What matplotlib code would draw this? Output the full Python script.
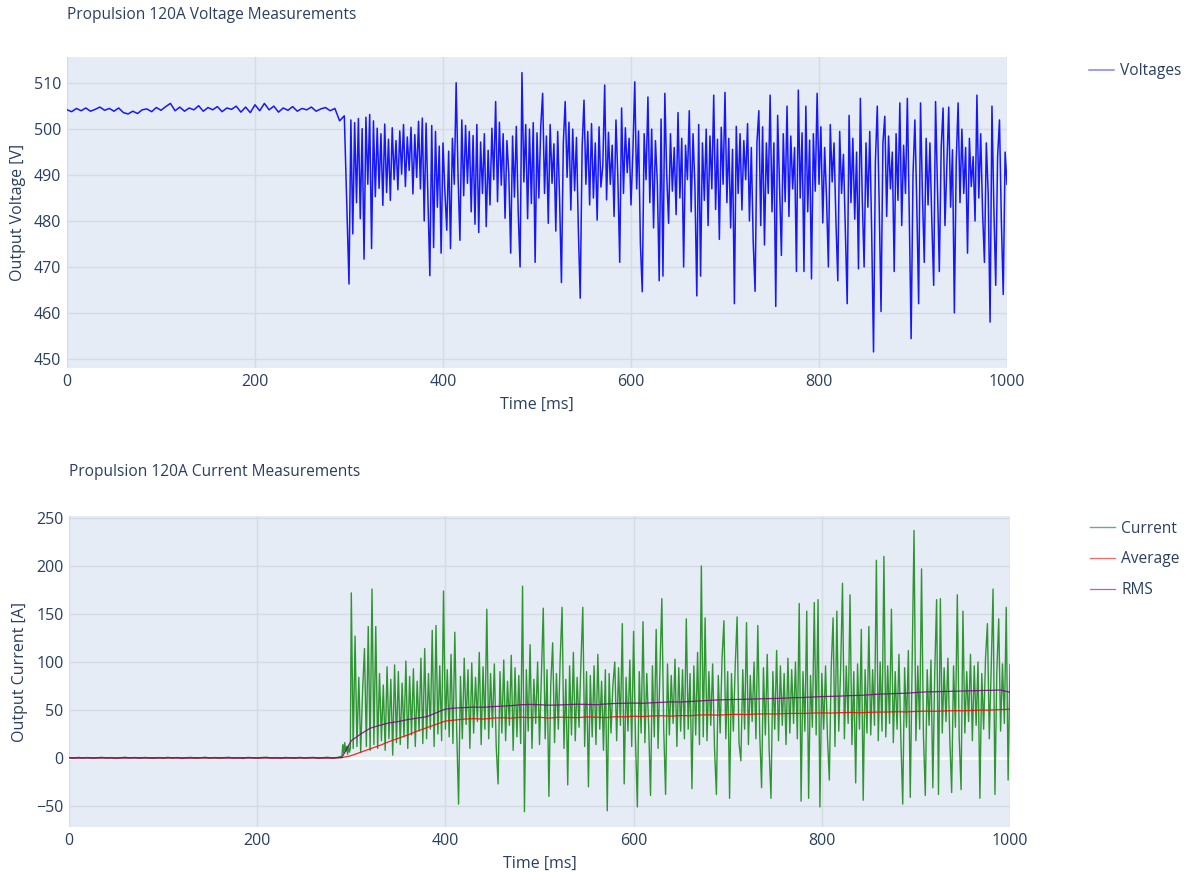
import numpy as np
import matplotlib
matplotlib.use('Agg')
import matplotlib.pyplot as plt

plt.rcParams['font.family'] = ['Open Sans', 'DejaVu Sans']

# ---- voltage data ----
# 0..295 ms, 5 ms step (before propulsion start)
volt_flat = [504.2, 503.8, 504.5, 504.0, 504.6, 503.9, 504.3, 504.8, 504.1, 504.5,
             503.9, 504.6, 503.6, 503.3, 503.9, 503.4, 504.2, 504.4, 503.8, 504.7,
             504.1, 504.9, 505.6, 504.0, 504.8, 503.9, 504.6, 504.2, 505.1, 503.9,
             504.7, 504.2, 504.9, 503.8, 504.6, 504.3, 505.0, 503.7, 504.8, 503.6,
             505.3, 504.0, 505.6, 504.2, 505.0, 503.7, 504.6, 504.1, 504.9, 503.9,
             504.5, 504.2, 504.8, 503.9, 504.4, 504.7, 504.0, 504.5, 501.8, 502.9]
# 300..1000 ms, 2 ms step
volt_run = [
    466.3, 502.0, 477.2, 501.4, 484.0, 502.3, 480.5, 500.1, 471.7, 502.6, 488.0, 503.2, 474.0,
    501.8, 485.3, 500.2, 487.1, 499.0, 483.4, 501.1, 486.2, 497.8, 484.5, 500.3, 489.0,
    497.5, 486.8, 499.6, 490.2, 501.0, 487.5, 498.3, 491.0, 500.4, 485.9, 498.8, 489.5, 501.7,
    487.0, 502.4, 480.0, 501.3, 484.6, 468.1, 500.8, 474.2, 499.5, 483.0, 496.3, 473.0,
    497.0, 486.5, 478.0, 495.2, 474.0, 498.0, 488.0, 510.1, 490.0, 475.8, 502.0, 485.5, 500.8,
    488.2, 499.5, 482.0, 498.6, 479.3, 501.0, 477.5, 497.2, 486.0, 499.0, 478.8, 495.4,
    483.5, 500.2, 489.0, 506.0, 484.2, 501.5, 487.8, 499.0, 480.6, 497.5, 490.3, 473.0, 498.5,
    485.2, 500.6, 482.0, 470.0, 512.3, 488.5, 501.0, 480.5, 500.0, 483.8, 501.4, 471.0,
    499.2, 485.0, 500.6, 507.8, 486.0, 498.5, 479.5, 501.0, 488.2, 496.8, 477.8, 499.5, 485.0,
    466.6, 497.0, 506.0, 489.5, 501.5, 482.4, 500.0, 486.6, 498.2, 478.0, 463.2, 496.0,
    506.3, 488.0, 499.5, 483.5, 501.2, 485.0, 497.0, 480.2, 500.5, 487.4, 492.0, 509.6, 484.6,
    499.3, 488.0, 496.5, 481.0, 502.0, 489.5, 471.0, 504.6, 486.0, 500.3, 490.5, 498.0,
    483.5, 495.0, 510.3, 487.0, 499.6, 475.0, 464.6, 499.0, 489.0, 507.0, 484.0, 500.0, 478.5,
    497.5, 488.4, 467.0, 502.2, 468.0, 507.8, 490.0, 479.5, 499.0, 486.5, 496.0, 481.4,
    503.6, 485.0, 498.0, 470.0, 496.5, 489.0, 504.0, 482.0, 499.0, 487.5, 463.7, 501.0, 468.0,
    497.0, 484.5, 500.0, 479.0, 498.5, 487.0, 507.4, 482.5, 497.8, 476.0, 500.4, 488.0,
    508.0, 484.0, 498.0, 478.5, 495.6, 462.0, 500.6, 486.0, 499.0, 482.4, 497.5, 489.0, 501.2,
    480.0, 496.0, 475.5, 464.7, 497.2, 504.0, 479.0, 500.5, 474.8, 497.0, 486.0, 507.4,
    482.0, 497.0, 461.4, 503.0, 488.0, 472.5, 499.0, 484.2, 505.0, 481.0, 498.5, 487.0, 496.0,
    469.0, 508.5, 485.0, 499.2, 469.0, 505.0, 482.0, 497.6, 467.4, 499.0, 486.5, 507.8,
    488.0, 500.5, 479.6, 496.0, 485.0, 470.0, 501.0, 488.5, 497.0, 480.0, 467.0, 499.5, 486.0,
    494.5, 478.0, 462.0, 503.0, 484.0, 498.0, 480.4, 495.0, 469.6, 506.7, 485.0, 470.0,
    497.0, 483.0, 499.5, 478.0, 451.5, 493.0, 505.0, 484.0, 460.3, 497.0, 502.8, 481.0, 498.5,
    487.0, 495.0, 469.0, 499.0, 484.5, 505.7, 479.0, 496.5, 486.0, 506.7, 482.0, 454.4,
    490.0, 502.0, 484.0, 462.0, 505.7, 486.0, 471.0, 498.0, 483.5, 497.0, 480.0, 466.0, 506.0,
    487.0, 469.0, 496.0, 504.6, 479.0, 492.0, 504.8, 483.0, 495.5, 460.0, 493.0, 505.7,
    484.0, 500.0, 486.0, 496.0, 473.0, 498.0, 487.5, 494.0, 480.0, 507.4, 485.0, 499.0, 482.0,
    471.0, 497.0, 486.0, 458.0, 505.0, 483.0, 466.0, 494.0, 502.0, 480.0, 464.0, 495.0,
    488.0]

# ---- current data ----
# 0..285 ms, 5 ms step
curr_flat = [0.3, -0.4, 0.6, -0.2, 0.5, -0.5, 0.2, 0.7, -0.3, 0.4,
             -0.6, 0.3, 0.8, -0.2, 0.5, -0.4, 0.6, 0.1, -0.5, 0.4,
             -0.3, 0.7, -0.2, 0.5, -0.6, 0.3, 0.6, -0.4, 0.2, 0.8,
             -0.3, 0.5, -0.5, 0.4, 0.7, -0.2, 0.3, -0.6, 0.6, 0.2,
             -0.4, 0.5, 0.8, -0.3, 0.4, -0.5, 0.6, 0.1, -0.4, 0.7,
             -0.2, 0.4, 0.6, -0.5, 0.3, 0.8, -0.3, 0.5]
# 290..299 ms, 1 ms step (pre-charge bump)
curr_bump = [2, 14, 5, 16, 7, 12, 4, 13, 6, 10]
# 300..1000 ms, 2 ms step
curr_run = [
    172, 10, 127, 12, 84, 6, 70, 114, 12, 137, 8, 176, 14, 137, 10, 88, 18, 76, 8, 95, 20, 82, 3, 97, 16,
    90, 14, 78, 22, 101, 10, 85, 24, 93, 12, 80, 28, 104, 15, 114, 20, 88, 30, 133, 12, 138, 25, 96, 18, 174,
    30, 92, 22, 108, 15, 131, 28, -48, 85, 20, 104, 35, 92, 10, 99, 26, 84, 38, 110, 14, 95, 30, 155, 20, 88,
    32, 98, 12, -27, 90, 26, 102, 18, 80, 34, 107, 8, 94, 22, 86, 15, 179, -56, 92, 28, 118, 10, 82, 36, 100,
    14, 86, 156, 20, 92, -40, 78, 120, 16, 88, 30, 104, 157, 10, 82, -28, 96, 24, 110, 18, 84, 32, 98, 157, 12,
    90, -30, 86, 22, 96, 14, 108, 30, 80, 8, 92, -55, 88, 26, 76, 100, 18, 94, 34, 140, -27, 84, 28, 102, 12,
    132, 20, -51, 90, 26, 142, 16, 88, 34, -39, 96, 22, 134, 10, 92, 166, 30, -38, 98, 24, 86, 36, 103, 12, 94,
    28, 92, 20, 145, 30, 88, -32, 96, 24, 110, 14, 200, 22, 146, 18, 90, 34, 98, 10, -38, 86, 26, 104, 143, 20,
    90, -42, 88, 28, 96, 147, 16, -3, 92, 30, 141, 14, 86, 38, 100, 20, 138, 26, -31, 94, 24, 108, 10, -42, 90,
    30, 112, 18, 96, 34, 88, 14, 104, 26, 92, 36, 100, 20, 161, -45, 90, 28, 153, -42, 86, 32, 162, 24, 165, -51,
    88, 30, 96, 22, -23, 94, 146, 12, 153, 28, 92, 182, 20, 96, 36, 170, 14, 90, -26, 98, 30, 134, -44, 92, 26,
    137, 24, 92, 34, 206, 18, 100, 28, 210, 22, 96, 36, 155, 16, 90, 30, 108, 20, -48, 94, 32, 112, -41, 98, 237,
    18, 96, 30, 197, 24, -39, 92, 34, 102, -31, 88, 165, -38, 166, 26, 94, 38, 104, 20, -36, 96, 32, 170, 22, -33,
    153, 26, 90, 38, 108, 18, 96, 34, 100, -42, 88, 30, 104, 140, 20, 92, 176, -38, 90, 145, 28, 98, 36, 157, -23,
    97]

# 0..1000 ms, 10 ms step
curr_avg = [0.1, 0.0, 0.1, 0.0, 0.1, 0.0, 0.0, 0.1, 0.0, 0.1, 0.0, 0.1, 0.0, 0.0, 0.1,
            0.0, 0.1, 0.0, 0.0, 0.1, 0.0, 0.1, 0.0, 0.0, 0.1, 0.0, 0.1, 0.0, 0.0,
            0.3, 2.5, 6.0, 9.5, 13.0, 17.0, 20.5, 24.0, 28.0, 31.5, 35.0, 38.5, 39.5, 40.5,
            41.0, 40.5, 41.5, 42.0, 41.5, 42.5, 42.0, 42.5, 41.5, 42.5, 42.3, 42.0, 42.8, 42.5,
            42.0, 43.0, 42.8, 43.5, 43.2, 43.8, 44.0, 43.6, 44.2, 44.0, 44.8, 45.0, 44.6, 45.2,
            45.5, 45.3, 45.8, 46.0, 45.8, 46.2, 46.5, 46.4, 46.8, 47.0, 46.8, 47.2, 47.5, 47.0,
            47.6, 47.8, 47.9, 48.2, 48.0, 48.5, 48.8, 48.6, 49.0, 49.3, 49.2, 49.6, 49.8, 50.0,
            50.4, 50.8]
curr_rms = [0.2, 0.1, 0.2, 0.1, 0.2, 0.1, 0.1, 0.2, 0.1, 0.2, 0.1, 0.2, 0.1, 0.1, 0.2,
            0.1, 0.2, 0.1, 0.1, 0.2, 0.1, 0.2, 0.1, 0.1, 0.2, 0.1, 0.2, 0.1, 0.1,
            0.5, 18.0, 25.0, 31.0, 34.0, 36.5, 38.0, 40.0, 41.5, 43.0, 47.0, 51.0, 52.0, 52.5,
            53.0, 52.8, 53.5, 54.0, 54.5, 55.5, 55.8, 55.5, 55.0, 55.2, 55.6, 56.0, 55.8, 55.5,
            56.2, 56.8, 57.0, 57.2, 57.0, 57.5, 58.0, 58.5, 58.3, 58.8, 59.5, 60.0, 60.5, 60.8,
            61.0, 61.2, 61.5, 61.8, 62.0, 62.3, 62.8, 63.0, 63.5, 64.0, 64.2, 64.5, 65.0, 65.2,
            65.8, 66.5, 66.8, 67.2, 67.5, 68.2, 68.8, 69.0, 69.3, 69.5, 69.8, 70.0, 70.3, 70.5,
            70.8, 68.5]

# time axes
t_volt = np.concatenate([np.arange(len(volt_flat)) * 5.0,
                         300 + np.arange(len(volt_run)) * 2.0])
volt = np.array(volt_flat + volt_run)
t_curr = np.concatenate([np.arange(len(curr_flat)) * 5.0,
                         290 + np.arange(len(curr_bump)) * 1.0,
                         300 + np.arange(len(curr_run)) * 2.0])
curr = np.array(curr_flat + curr_bump + curr_run, dtype=float)
t_stat = np.arange(len(curr_avg)) * 10.0

BG = '#E5ECF6'
GRID = '#d6dbe3'
TXT = '#2a3f5f'
W, H = 1189, 872


def style_axes(ax, ylabel):
    ax.set_facecolor(BG)
    for s in ax.spines.values():
        s.set_visible(False)
    ax.grid(True, color=GRID, linewidth=1.0)
    ax.set_axisbelow(True)
    ax.tick_params(length=0, pad=4, labelsize=11.5, colors=TXT)
    ax.set_xlabel('Time [ms]', fontsize=11.5, color=TXT, labelpad=5)
    ax.set_ylabel(ylabel, fontsize=11.5, color=TXT, labelpad=6)
    ax.set_xlim(0, 1000)
    ax.set_xticks([0, 200, 400, 600, 800, 1000])


fig = plt.figure(figsize=(W / 100, H / 100), dpi=100)

# voltage panel
ax1 = fig.add_axes([67 / W, 1 - 368 / H, 940 / W, 311 / H])
style_axes(ax1, 'Output Voltage [V]')
ax1.plot(t_volt, volt, color='#0000ff', lw=1.1, alpha=0.9, label='Voltages')
ax1.set_ylim(448.0, 515.7)
ax1.set_yticks([450, 460, 470, 480, 490, 500, 510])
leg1 = ax1.legend(loc='upper left', bbox_to_anchor=(1.087, 0.98), frameon=False,
                  fontsize=11.2, handlelength=1.6, handletextpad=0.4, borderpad=0,
                  borderaxespad=0, labelcolor=TXT)
for h in leg1.get_lines():
    h.set_alpha(0.5)
fig.text(67 / W, 1 - 15 / H, 'Propulsion 120A Voltage Measurements',
         fontsize=11.2, color=TXT, va='center', ha='left')

# current panel
ax2 = fig.add_axes([69 / W, 1 - 827 / H, 941 / W, 311 / H])
style_axes(ax2, 'Output Current [A]')
ax2.axhline(0, color='white', lw=2, zorder=1)
ax2.plot(t_curr, curr, color='#008000', lw=1.0, alpha=0.8, label='Current')
ax2.plot(t_stat, curr_avg, color='#ff0000', lw=0.9, alpha=0.85, label='Average')
ax2.plot(t_stat, curr_rms, color='#800080', lw=0.9, alpha=0.85, label='RMS')
ax2.set_ylim(-71.9, 252.1)
ax2.set_yticks([-50, 0, 50, 100, 150, 200, 250])
leg2 = ax2.legend(loc='upper left', bbox_to_anchor=(1.085, 0.985), frameon=False,
                  fontsize=11.2, handlelength=1.6, handletextpad=0.4, borderpad=0,
                  borderaxespad=0, labelspacing=0.95, labelcolor=TXT)
for h in leg2.get_lines():
    h.set_alpha(0.6)
fig.text(69 / W, 1 - 472 / H, 'Propulsion 120A Current Measurements',
         fontsize=11.2, color=TXT, va='center', ha='left')

fig.savefig('out.png', dpi=100)
